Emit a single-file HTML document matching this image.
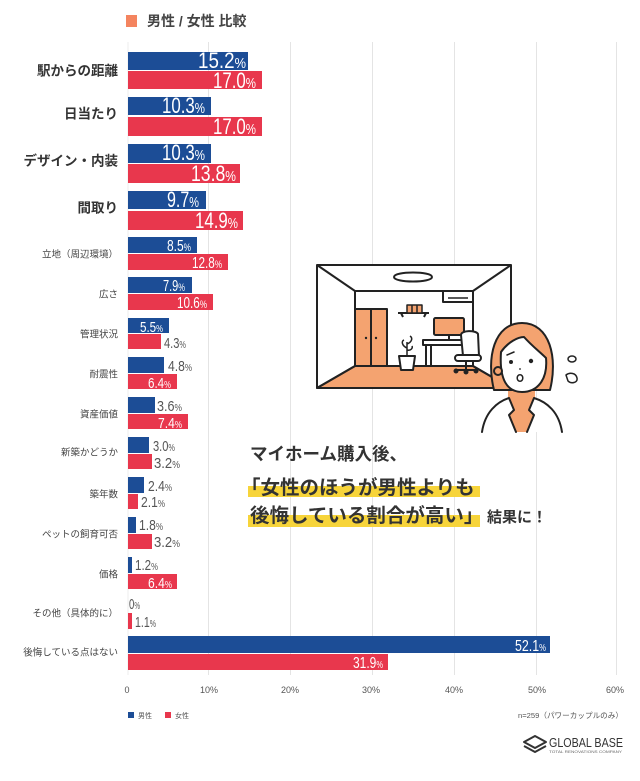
<!DOCTYPE html>
<html><head><meta charset="utf-8"><style>
html,body{margin:0;padding:0;background:#fff;}
body{width:640px;height:781px;overflow:hidden;}
svg{display:block;}
.cat{font-family:"Liberation Sans","Noto Sans CJK JP",sans-serif;text-anchor:end;dominant-baseline:central;}
.big{font-size:13.5px;font-weight:bold;fill:#333;}
.sm{font-size:9.5px;fill:#444;}
.v{font-family:"Liberation Sans Narrow","Liberation Sans",sans-serif;}
.w{fill:#fff;}
.g{fill:#555;}
.ax{font-family:"Liberation Sans Narrow","Liberation Sans",sans-serif;font-size:9px;fill:#555;text-anchor:middle;}
.jp{font-family:"Liberation Sans","Noto Sans CJK JP",sans-serif;}
</style></head><body>
<svg width="640" height="781" viewBox="0 0 640 781" xmlns="http://www.w3.org/2000/svg">
<rect width="640" height="781" fill="#fff"/>
<!-- header -->
<rect x="126" y="15" width="11" height="12" fill="#f4845f"/>
<text x="147" y="26" class="jp" font-size="14" font-weight="bold" fill="#444">男性 / 女性 比較</text>
<!-- gridlines -->
<g stroke="#e4e4e4" stroke-width="1">
<line x1="208.5" y1="42" x2="208.5" y2="675"/>
<line x1="290.5" y1="42" x2="290.5" y2="675"/>
<line x1="372.5" y1="42" x2="372.5" y2="675"/>
<line x1="454.5" y1="42" x2="454.5" y2="675"/>
<line x1="536.5" y1="42" x2="536.5" y2="675"/>
<line x1="616.5" y1="42" x2="616.5" y2="675"/>
</g>
<line x1="128" y1="42" x2="128" y2="675" stroke="#ececec" stroke-width="1"/>
<!-- bars -->
<g fill="#1c4d96">
<rect x="128" y="52" width="120" height="18"/>
<rect x="128" y="97" width="83" height="18"/>
<rect x="128" y="144" width="83" height="19"/>
<rect x="128" y="191" width="78" height="18"/>
<rect x="128" y="237" width="69" height="16"/>
<rect x="128" y="277" width="64" height="16"/>
<rect x="128" y="318" width="41" height="15"/>
<rect x="128" y="357" width="36" height="16"/>
<rect x="128" y="397" width="27" height="16"/>
<rect x="128" y="437" width="21" height="16"/>
<rect x="128" y="477" width="16" height="16"/>
<rect x="128" y="517" width="8" height="16"/>
<rect x="128" y="557" width="4" height="16"/>
<rect x="128" y="636" width="422" height="17"/>
</g>
<g fill="#e8374d">
<rect x="128" y="71" width="134" height="18"/>
<rect x="128" y="117" width="134" height="19"/>
<rect x="128" y="164" width="112" height="19"/>
<rect x="128" y="211" width="115" height="19"/>
<rect x="128" y="254" width="100" height="16"/>
<rect x="128" y="294" width="85" height="16"/>
<rect x="128" y="334" width="33" height="15"/>
<rect x="128" y="374" width="49" height="15"/>
<rect x="128" y="414" width="60" height="15"/>
<rect x="128" y="454" width="24" height="15"/>
<rect x="128" y="494" width="10" height="15"/>
<rect x="128" y="534" width="24" height="15"/>
<rect x="128" y="574" width="49" height="15"/>
<rect x="128" y="613" width="4" height="16"/>
<rect x="128" y="654" width="260" height="16"/>
</g>
<!-- category labels -->
<text class="cat big" x="118" y="71">駅からの距離</text>
<text class="cat big" x="118" y="114">日当たり</text>
<text class="cat big" x="118" y="161">デザイン・内装</text>
<text class="cat big" x="118" y="208">間取り</text>
<text class="cat sm" x="118" y="255">立地（周辺環境）</text>
<text class="cat sm" x="118" y="295">広さ</text>
<text class="cat sm" x="118" y="335">管理状況</text>
<text class="cat sm" x="118" y="375">耐震性</text>
<text class="cat sm" x="118" y="415">資産価値</text>
<text class="cat sm" x="118" y="453">新築かどうか</text>
<text class="cat sm" x="118" y="495">築年数</text>
<text class="cat sm" x="118" y="535">ペットの飼育可否</text>
<text class="cat sm" x="118" y="575">価格</text>
<text class="cat sm" x="118" y="614">その他（具体的に）</text>
<text class="cat sm" x="118" y="653">後悔している点はない</text>
<!-- value labels -->
<g class="v">
<text class="w" x="198" y="68" font-size="22" textLength="48" lengthAdjust="spacingAndGlyphs">15.2<tspan font-size="15">%</tspan></text>
<text class="w" x="213" y="88" font-size="22" textLength="43" lengthAdjust="spacingAndGlyphs">17.0<tspan font-size="15">%</tspan></text>
<text class="w" x="162" y="113" font-size="22" textLength="43" lengthAdjust="spacingAndGlyphs">10.3<tspan font-size="15">%</tspan></text>
<text class="w" x="213" y="134" font-size="22" textLength="43" lengthAdjust="spacingAndGlyphs">17.0<tspan font-size="15">%</tspan></text>
<text class="w" x="162" y="160" font-size="22" textLength="43" lengthAdjust="spacingAndGlyphs">10.3<tspan font-size="15">%</tspan></text>
<text class="w" x="191" y="181" font-size="22" textLength="45" lengthAdjust="spacingAndGlyphs">13.8<tspan font-size="15">%</tspan></text>
<text class="w" x="167" y="207" font-size="22" textLength="32" lengthAdjust="spacingAndGlyphs">9.7<tspan font-size="15">%</tspan></text>
<text class="w" x="195" y="228" font-size="22" textLength="43" lengthAdjust="spacingAndGlyphs">14.9<tspan font-size="15">%</tspan></text>
<text class="w" x="167" y="251" font-size="16" textLength="24" lengthAdjust="spacingAndGlyphs">8.5<tspan font-size="11">%</tspan></text>
<text class="w" x="192" y="268" font-size="16" textLength="30" lengthAdjust="spacingAndGlyphs">12.8<tspan font-size="11">%</tspan></text>
<text class="w" x="163" y="291" font-size="16" textLength="22" lengthAdjust="spacingAndGlyphs">7.9<tspan font-size="11">%</tspan></text>
<text class="w" x="177" y="308" font-size="16" textLength="30" lengthAdjust="spacingAndGlyphs">10.6<tspan font-size="11">%</tspan></text>
<text class="w" x="140" y="332" font-size="15" textLength="23" lengthAdjust="spacingAndGlyphs">5.5<tspan font-size="10">%</tspan></text>
<text class="g" x="164" y="348" font-size="15" textLength="22" lengthAdjust="spacingAndGlyphs">4.3<tspan font-size="10">%</tspan></text>
<text class="g" x="168" y="371" font-size="15" textLength="24" lengthAdjust="spacingAndGlyphs">4.8<tspan font-size="10">%</tspan></text>
<text class="w" x="148" y="388" font-size="15" textLength="23" lengthAdjust="spacingAndGlyphs">6.4<tspan font-size="10">%</tspan></text>
<text class="g" x="157" y="411" font-size="15" textLength="25" lengthAdjust="spacingAndGlyphs">3.6<tspan font-size="10">%</tspan></text>
<text class="w" x="158" y="428" font-size="15" textLength="24" lengthAdjust="spacingAndGlyphs">7.4<tspan font-size="10">%</tspan></text>
<text class="g" x="153" y="451" font-size="15" textLength="22" lengthAdjust="spacingAndGlyphs">3.0<tspan font-size="10">%</tspan></text>
<text class="g" x="154" y="468" font-size="15" textLength="26" lengthAdjust="spacingAndGlyphs">3.2<tspan font-size="10">%</tspan></text>
<text class="g" x="148" y="491" font-size="15" textLength="24" lengthAdjust="spacingAndGlyphs">2.4<tspan font-size="10">%</tspan></text>
<text class="g" x="141" y="507" font-size="15" textLength="24" lengthAdjust="spacingAndGlyphs">2.1<tspan font-size="10">%</tspan></text>
<text class="g" x="139" y="530" font-size="15" textLength="24" lengthAdjust="spacingAndGlyphs">1.8<tspan font-size="10">%</tspan></text>
<text class="g" x="154" y="547" font-size="15" textLength="26" lengthAdjust="spacingAndGlyphs">3.2<tspan font-size="10">%</tspan></text>
<text class="g" x="135" y="570" font-size="15" textLength="23" lengthAdjust="spacingAndGlyphs">1.2<tspan font-size="10">%</tspan></text>
<text class="w" x="148" y="588" font-size="15" textLength="24" lengthAdjust="spacingAndGlyphs">6.4<tspan font-size="10">%</tspan></text>
<text class="g" x="129" y="609" font-size="15" textLength="11" lengthAdjust="spacingAndGlyphs">0<tspan font-size="10">%</tspan></text>
<text class="g" x="135" y="627" font-size="15" textLength="21" lengthAdjust="spacingAndGlyphs">1.1<tspan font-size="10">%</tspan></text>
<text class="w" x="515" y="651" font-size="16" textLength="31" lengthAdjust="spacingAndGlyphs">52.1<tspan font-size="10">%</tspan></text>
<text class="w" x="353" y="668" font-size="16" textLength="30" lengthAdjust="spacingAndGlyphs">31.9<tspan font-size="10">%</tspan></text>
</g>
<!-- axis labels -->
<text class="ax" x="127" y="693">0</text>
<text class="ax" x="209" y="693">10%</text>
<text class="ax" x="290" y="693">20%</text>
<text class="ax" x="371" y="693">30%</text>
<text class="ax" x="454" y="693">40%</text>
<text class="ax" x="537" y="693">50%</text>
<text class="ax" x="615" y="693">60%</text>
<!-- legend -->
<rect x="128" y="712" width="6" height="6" fill="#1c4d96"/>
<text x="138" y="718" class="jp" font-size="7" fill="#555">男性</text>
<rect x="165" y="712" width="6" height="6" fill="#e8374d"/>
<text x="175" y="718" class="jp" font-size="7" fill="#555">女性</text>
<text x="518" y="718" class="jp" font-size="7.5" fill="#555" textLength="105" lengthAdjust="spacingAndGlyphs">n=259（パワーカップルのみ）</text>
<!-- logo -->
<g fill="none" stroke="#333" stroke-width="2" stroke-linejoin="round">
<path d="M524,742 L535,736 L546,742 L535,748 Z"/>
<path d="M524,746 L535,752 L546,746"/>
</g>
<text x="549" y="747" font-family="Liberation Sans,sans-serif" font-size="13" fill="#333" textLength="74" lengthAdjust="spacingAndGlyphs">GLOBAL BASE</text>
<text x="549" y="753" font-family="Liberation Sans,sans-serif" font-size="4" fill="#666" textLength="73" lengthAdjust="spacingAndGlyphs">TOTAL RENOVATIONS COMPANY</text>
<!-- callout -->
<rect x="248" y="486" width="232" height="11" fill="#f7d43a"/>
<rect x="248" y="515" width="232" height="12" fill="#f7d43a"/>
<text x="250" y="460" class="jp" font-size="17.5" font-weight="bold" fill="#333">マイホーム購入後、</text>
<text x="241" y="494" class="jp" font-size="19.5" font-weight="bold" fill="#333">「女性のほうが男性よりも</text>
<text x="250" y="522" class="jp" font-size="19.5" font-weight="bold" fill="#333">後悔している割合が高い」</text>
<text x="487" y="522" class="jp" font-size="15" font-weight="bold" fill="#333">結果に！</text>
<!-- room illustration -->
<g stroke="#222" stroke-width="2" stroke-linejoin="round">
<rect x="317" y="265" width="194" height="123" fill="#fff"/>
<path d="M355,366 L473,366 L511,388 L317,388 Z" fill="#f4a370"/>
<rect x="355" y="291" width="118" height="75" fill="#fff"/>
<line x1="317" y1="265" x2="355" y2="291"/>
<line x1="511" y1="265" x2="473" y2="291"/>
<line x1="317" y1="388" x2="355" y2="366"/>
<line x1="511" y1="388" x2="473" y2="366"/>
<path d="M394,277 C394,271 432,271 432,277 C432,283 394,283 394,277 Z" fill="#fff"/>
<rect x="443" y="291" width="30" height="11" fill="#fff"/>
<line x1="448" y1="298" x2="468" y2="298" stroke-width="1.5"/>
<rect x="355" y="309" width="32" height="57" fill="#f4a370"/>
<line x1="371" y1="309" x2="371" y2="366"/>
<line x1="398" y1="313" x2="429" y2="313"/>
<path d="M401,313 L403,317 M426,313 L424,317" />
<rect x="407" y="305" width="15" height="8" fill="#f4a370" stroke-width="1.5"/>
<line x1="412" y1="305" x2="412" y2="313" stroke-width="1.5"/>
<line x1="417" y1="305" x2="417" y2="313" stroke-width="1.5"/>
<rect x="434" y="318" width="30" height="17" rx="1.5" fill="#f4a370"/>
<line x1="449" y1="335" x2="449" y2="340"/>
<rect x="423" y="340" width="52" height="5" fill="#fff"/>
<line x1="426" y1="345" x2="426" y2="367"/>
<line x1="431" y1="345" x2="431" y2="365"/>
<path d="M399,356 L415,356 L413,370 L401,370 Z" fill="#fff"/>
<path d="M407,356 L407,342 M407,348 C402,346 401,341 404,340 M407,344 C412,342 413,338 410,336 M407,350 C411,351 413,348 412,346" fill="none" stroke-width="1.5"/>
<path d="M461,335 C461,330 476,330 478,334 L479,356 L463,356 Z" fill="#fff"/>
<rect x="455" y="355" width="26" height="6" rx="3" fill="#fff"/>
<path d="M466,361 L466,370 M456,370 L476,370" fill="none"/>
<circle cx="456" cy="371" r="1.5" fill="#222"/>
<circle cx="466" cy="372" r="1.5" fill="#222"/>
<circle cx="476" cy="371" r="1.5" fill="#222"/>
</g>
<circle cx="366" cy="338" r="1.2" fill="#222"/>
<circle cx="376" cy="338" r="1.2" fill="#222"/>
<!-- woman -->
<g stroke="#222" stroke-width="2" stroke-linejoin="round" stroke-linecap="round">
<rect x="508" y="390" width="27" height="42" fill="#f4a370" stroke="none"/>
<path d="M494,390 C486,358 494,323 522,323 C550,323 558,358 550,390 Z" fill="#f4a370"/>
<path d="M501,352 C508,342 518,337 524,337 C532,346 540,352 546,358 C548,380 537,392 522,392 C508,392 499,381 501,352 Z" fill="#fff"/>
<circle cx="498" cy="371" r="4" fill="#f4a370"/>
<path d="M482,432 C485,412 497,402 509,398 L514,410 L509,415 L516,432" fill="#fff"/>
<path d="M562,432 C559,412 547,402 534,398 L529,410 L534,415 L527,432" fill="#fff"/>
<path d="M507,355 L514,352" fill="none" stroke-width="1.5"/>
<ellipse cx="520" cy="378" rx="2.8" ry="3.3" fill="#fff" stroke-width="1.5"/>
<ellipse cx="572" cy="359" rx="4" ry="3" fill="#fff" stroke-width="1.5"/>
<path d="M566,375 C570,372 576,373 577,378 C578,383 571,384 568,381 Z" fill="#fff" stroke-width="1.5"/>
</g>
<circle cx="511" cy="362" r="2" fill="#222"/>
<circle cx="531" cy="361" r="2.2" fill="#222"/>
<circle cx="520" cy="369" r="0.9" fill="#222"/>
</svg>
</body></html>
